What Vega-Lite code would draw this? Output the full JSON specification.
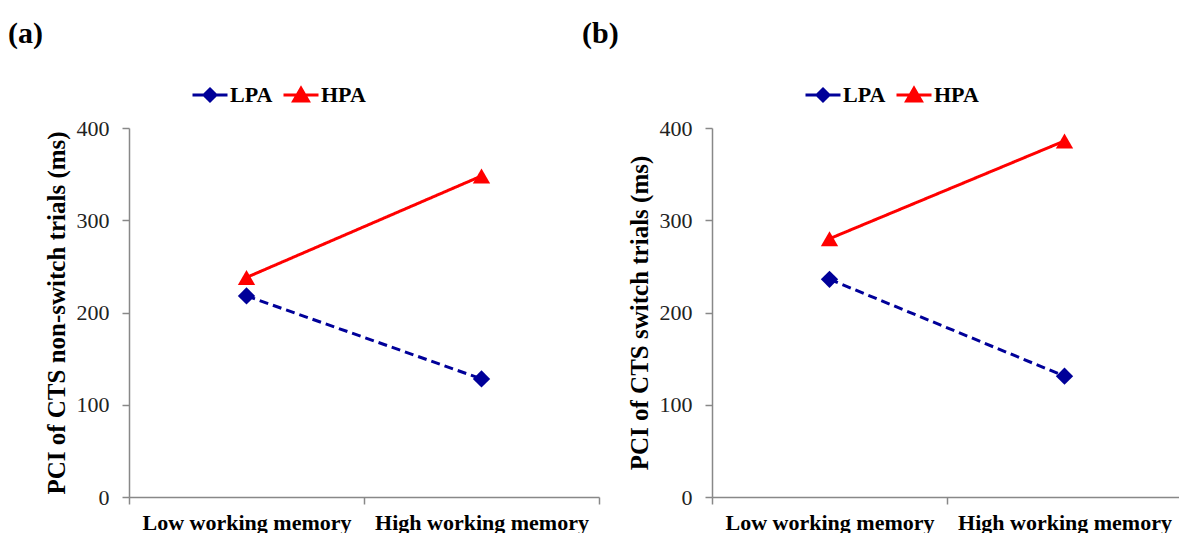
{
  "$schema": "https://vega.github.io/schema/vega-lite/v6.json",
  "background": "white",
  "padding": {"left": 8, "top": 19, "right": 0, "bottom": 0},
  "config": {
    "view": {"stroke": null},
    "font": "Liberation Serif",
    "axis": {"domainColor": "#888888", "tickColor": "#888888", "domainWidth": 1.5, "tickWidth": 1.5, "grid": false, "labelFont": "Liberation Serif", "titleFont": "Liberation Serif", "labelColor": "#222222", "titleColor": "#000000", "labelLimit": 0, "titleLimit": 0},
    "legend": {"labelFont": "Liberation Serif", "labelFontSize": 22, "labelFontWeight": "bold", "labelColor": "#000000", "symbolSize": 1225, "symbolStrokeWidth": 3, "symbolOpacity": 1, "labelOffset": 1, "columnPadding": 14, "direction": "horizontal", "orient": "none", "title": null},
    "title": {"font": "Liberation Serif", "fontSize": 30, "fontWeight": "bold", "color": "#000000", "anchor": "start", "frame": "bounds"}
  },
  "data": {"values": [
    {"panel": "a", "wm": "Low working memory", "group": "LPA", "pci": 218},
    {"panel": "a", "wm": "High working memory", "group": "LPA", "pci": 128},
    {"panel": "a", "wm": "Low working memory", "group": "HPA", "pci": 238},
    {"panel": "a", "wm": "High working memory", "group": "HPA", "pci": 348},
    {"panel": "b", "wm": "Low working memory", "group": "LPA", "pci": 236},
    {"panel": "b", "wm": "High working memory", "group": "LPA", "pci": 131},
    {"panel": "b", "wm": "Low working memory", "group": "HPA", "pci": 280},
    {"panel": "b", "wm": "High working memory", "group": "HPA", "pci": 386}
  ]},
  "spacing": -18,
  "resolve": {"scale": {"shape": "independent"}, "legend": {"shape": "independent"}},
  "hconcat": [
    {
      "width": 470, "height": 369,
      "title": {"text": "(a)", "dx": -36, "offset": 27},
      "transform": [{"filter": "datum.panel === 'a'"}],
      "encoding": {
        "x": {"field": "wm", "type": "nominal", "sort": ["Low working memory", "High working memory"], "scale": {"paddingInner": 0, "paddingOuter": 0}, "axis": {"title": null, "labelAngle": 0, "tickBand": "extent", "tickSize": 7, "labelFontSize": 22, "labelFontWeight": "bold", "labelColor": "#000000", "labelPadding": 8}},
        "y": {"field": "pci", "type": "quantitative", "scale": {"domain": [0, 400], "nice": false}, "axis": {"title": "PCI of CTS non-switch trials (ms)", "values": [0, 100, 200, 300, 400], "tickSize": 7, "labelFontSize": 22, "labelPadding": 13, "titleFontSize": 25, "titleFontWeight": "bold", "titlePadding": 7}}
      },
      "resolve": {"scale": {"shape": "independent"}, "legend": {"shape": "independent"}},
      "layer": [
        {"mark": {"type": "line", "strokeWidth": 3}, "encoding": {
          "color": {"field": "group", "type": "nominal", "scale": {"domain": ["LPA", "HPA"], "range": ["#000099", "#ff0000"]}, "legend": null},
          "strokeDash": {"field": "group", "type": "nominal", "scale": {"domain": ["LPA", "HPA"], "range": [[9, 5], [1, 0]]}, "legend": null}
        }},
        {"mark": {"type": "point", "filled": true, "opacity": 1, "size": 300}, "encoding": {
          "color": {"field": "group", "type": "nominal", "scale": {"domain": ["LPA", "HPA"], "range": ["#000099", "#ff0000"]}, "legend": null},
          "shape": {"field": "group", "type": "nominal", "scale": {"domain": ["LPA", "HPA"], "range": ["diamond", "triangle-up"]}, "legend": null}
        }},
        {"transform": [{"filter": "datum.group === 'LPA'"}], "mark": {"type": "point", "filled": true, "opacity": 0, "fill": "#000099", "stroke": "#000099", "strokeWidth": 3}, "encoding": {
          "shape": {"field": "group", "type": "nominal", "scale": {"domain": ["LPA"], "range": ["M-1,0L1,0M0,-0.34L0.34,0L0,0.34L-0.34,0Z"]}, "legend": {"legendX": 62, "legendY": -52}}
        }},
        {"transform": [{"filter": "datum.group === 'HPA'"}], "mark": {"type": "point", "filled": true, "opacity": 0, "fill": "#ff0000", "stroke": "#ff0000", "strokeWidth": 3}, "encoding": {
          "shape": {"field": "group", "type": "nominal", "scale": {"domain": ["HPA"], "range": ["M-1,0L1,0M0,-0.38L0.42,0.34L-0.42,0.34Z"]}, "legend": {"legendX": 153, "legendY": -52}}
        }}
      ]
    },
    {
      "width": 470, "height": 369,
      "title": {"text": "(b)", "dx": -45, "offset": 27},
      "transform": [{"filter": "datum.panel === 'b'"}],
      "encoding": {
        "x": {"field": "wm", "type": "nominal", "sort": ["Low working memory", "High working memory"], "scale": {"paddingInner": 0, "paddingOuter": 0}, "axis": {"title": null, "labelAngle": 0, "tickBand": "extent", "tickSize": 7, "labelFontSize": 22, "labelFontWeight": "bold", "labelColor": "#000000", "labelPadding": 8}},
        "y": {"field": "pci", "type": "quantitative", "scale": {"domain": [0, 400], "nice": false}, "axis": {"title": "PCI of CTS switch trials (ms)", "values": [0, 100, 200, 300, 400], "tickSize": 7, "labelFontSize": 22, "labelPadding": 13, "titleFontSize": 25, "titleFontWeight": "bold", "titlePadding": 7}}
      },
      "resolve": {"scale": {"shape": "independent"}, "legend": {"shape": "independent"}},
      "layer": [
        {"mark": {"type": "line", "strokeWidth": 3}, "encoding": {
          "color": {"field": "group", "type": "nominal", "scale": {"domain": ["LPA", "HPA"], "range": ["#000099", "#ff0000"]}, "legend": null},
          "strokeDash": {"field": "group", "type": "nominal", "scale": {"domain": ["LPA", "HPA"], "range": [[9, 5], [1, 0]]}, "legend": null}
        }},
        {"mark": {"type": "point", "filled": true, "opacity": 1, "size": 300}, "encoding": {
          "color": {"field": "group", "type": "nominal", "scale": {"domain": ["LPA", "HPA"], "range": ["#000099", "#ff0000"]}, "legend": null},
          "shape": {"field": "group", "type": "nominal", "scale": {"domain": ["LPA", "HPA"], "range": ["diamond", "triangle-up"]}, "legend": null}
        }},
        {"transform": [{"filter": "datum.group === 'LPA'"}], "mark": {"type": "point", "filled": true, "opacity": 0, "fill": "#000099", "stroke": "#000099", "strokeWidth": 3}, "encoding": {
          "shape": {"field": "group", "type": "nominal", "scale": {"domain": ["LPA"], "range": ["M-1,0L1,0M0,-0.34L0.34,0L0,0.34L-0.34,0Z"]}, "legend": {"legendX": 92, "legendY": -52}}
        }},
        {"transform": [{"filter": "datum.group === 'HPA'"}], "mark": {"type": "point", "filled": true, "opacity": 0, "fill": "#ff0000", "stroke": "#ff0000", "strokeWidth": 3}, "encoding": {
          "shape": {"field": "group", "type": "nominal", "scale": {"domain": ["HPA"], "range": ["M-1,0L1,0M0,-0.38L0.42,0.34L-0.42,0.34Z"]}, "legend": {"legendX": 183, "legendY": -52}}
        }}
      ]
    }
  ]
}
